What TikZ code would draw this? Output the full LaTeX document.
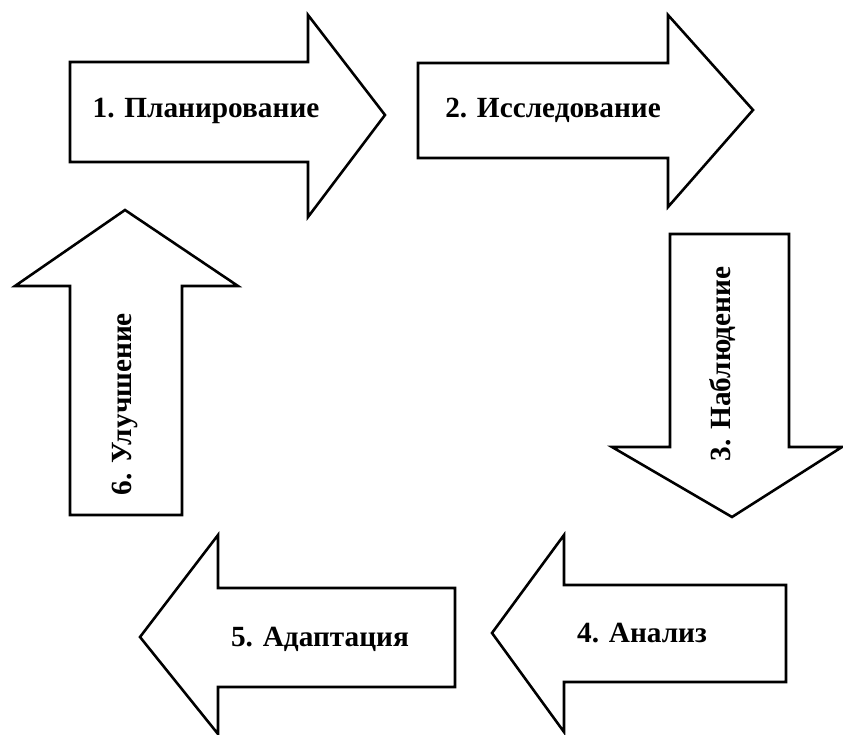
\documentclass[tikz,border=0pt]{standalone}
\usepackage{fontspec}
\setmainfont{Liberation Serif}
\usetikzlibrary{positioning}
\tikzset{
arrowline/.style={line width=2.2pt,line join=miter,draw=black,fill=white},
steplabel/.style={font=\bfseries\fontsize{25}{29}\selectfont,inner sep=0pt}
}
\newcommand \mydrawharrow[8]
{
\draw[arrowline] (#1,#4)--(#2,#4)--(#2,#6)--(#3,#8)--(#2,#7)--(#2,#5)--(#1,#5)--cycle;
}
\newcommand \mydrawvarrow[8]
{
\draw[arrowline] (#4,#1)--(#4,#2)--(#6,#2)--(#8,#3)--(#7,#2)--(#5,#2)--(#5,#1)--cycle;
}
\begin{document}
\begin{tikzpicture}[x=0.03cm, y=-0.03cm]
\useasboundingbox (0,0) rectangle (843,735);
% horizontal arrows: tail, base, tip, body top, body bottom, head top, head bottom, tip y
\mydrawharrow{70}{308}{385}{62}{162}{15}{217}{115}
\mydrawharrow{418}{668}{753}{63}{158}{15}{207}{110}
\mydrawharrow{786}{564}{492}{585}{682}{535}{732}{633}
\mydrawharrow{455}{218}{140}{588}{687}{535}{734}{637}
% vertical arrows: tail, base, tip, body left, body right, head left, head right, tip x
\mydrawvarrow{234}{447}{517}{670}{789}{612}{842}{732}
\mydrawvarrow{515}{286}{210}{70}{182}{15}{238}{125}
\node[steplabel]           (plan)     at (206,111) {1. Планирование};
\node[steplabel]           (research) at (553,110) {2. Исследование};
\node[steplabel,rotate=90] (observe)  at (723,364) {3. Наблюдение};
\node[steplabel]           (analyse)  at (642,633) {4. Анализ};
\node[steplabel]           (adapt)    at (320,639) {5. Адаптация};
\node[steplabel,rotate=90] (improve)  at (125,404) {6. Улучшение};
\end{tikzpicture}
\end{document}
